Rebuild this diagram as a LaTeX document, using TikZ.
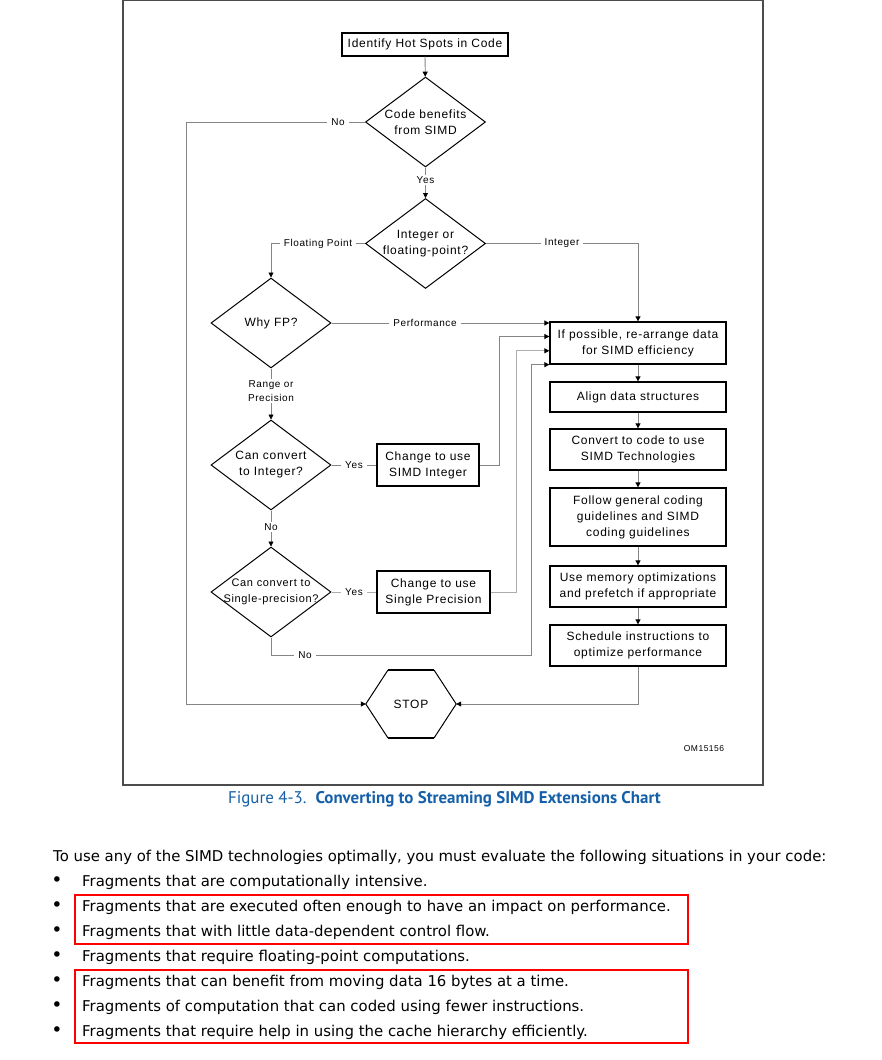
\documentclass[tikz,border=0pt]{standalone}
\usepackage{fontspec}
\usetikzlibrary{shapes.geometric,arrows.meta,calc}
\newfontfamily\dgfont{Liberation Sans}[LetterSpace=6]
\newfontfamily\bodyfont{DejaVu Sans}
\newfontfamily\capfont{PT Sans}
\definecolor{lnc}{HTML}{858585}
\definecolor{lnl}{HTML}{ADADAD}
\definecolor{capblue}{HTML}{1560A8}
\tikzset{
  conn/.style={draw=lnc, line width=0.8pt},
  connl/.style={draw=lnl, line width=0.9pt},
  arr/.style={-{Triangle[length=5pt,width=5pt,color=black]}},
  stepbox/.style={draw=black, line width=1.3pt, rectangle, inner sep=0pt, align=center,
     font={\dgfont\fontsize{12}{16}\selectfont}},
  dia/.style={draw=black, line width=1pt, diamond, inner sep=0pt,
     minimum width=120pt, minimum height=90pt},
  diatext/.style={align=center, inner sep=0pt, font={\dgfont\fontsize{12}{16}\selectfont}},
  lbl/.style={fill=white, inner xsep=4pt, inner ysep=2pt, align=center, font={\dgfont\fontsize{10}{14}\selectfont}},
  bodytxt/.style={anchor=west, inner sep=0pt, font={\bodyfont\fontsize{14.9}{18}\selectfont}},
  bul/.style={inner sep=0pt, font={\bodyfont\fontsize{19}{20}\selectfont}},
  redbox/.style={draw=red, line width=1.5pt},
}
\begin{document}
\begin{tikzpicture}[x=1pt,y=-1pt]
\useasboundingbox (0,0) rectangle (882,1060);
\fill[white] (0,0) rectangle (882,1060);
% frame
\draw[draw=black!70, line width=1.2pt] (123,0.6) rectangle (763,785);

% nodes
\node[stepbox, minimum width=166pt, minimum height=23pt] (top) at (425,44.5) {Identify Hot Spots in Code};
\node[dia] (d1) at (425.5,122) {};
\node[diatext] at (d1) {Code benefits\\from SIMD};
\node[dia] (d2) at (425.5,243.5) {};
\node[diatext] at (d2) {Integer or\\floating-point?};
\node[dia] (fp) at (271,323) {};
\node[diatext] at (fp) {Why FP?};
\node[dia] (d4) at (271,465) {};
\node[diatext] at (d4) {Can convert\\to Integer?};
\node[dia] (d5) at (271,592) {};
\node[diatext, font={\dgfont\fontsize{11}{16}\selectfont}] at (d5) {Can convert to\\Single-precision?};

\node[stepbox, minimum width=102pt, minimum height=42pt] (si) at (428,465) {Change to use\\SIMD Integer};
\node[stepbox, minimum width=113pt, minimum height=42pt] (sp) at (433.5,592) {Change to use\\Single Precision};

\node[stepbox, minimum width=176pt, minimum height=42pt] (b1) at (638,343) {If possible, re-arrange data\\for SIMD efficiency};
\node[stepbox, minimum width=176pt, minimum height=30pt] (b2) at (638,397) {Align data structures};
\node[stepbox, minimum width=176pt, minimum height=41pt] (b3) at (638,449.5) {Convert to code to use\\SIMD Technologies};
\node[stepbox, minimum width=176pt, minimum height=58pt] (b4) at (638,517) {Follow general coding\\guidelines and SIMD\\coding guidelines};
\node[stepbox, minimum width=176pt, minimum height=41pt] (b5) at (638,586.5) {Use memory optimizations\\and prefetch if appropriate};
\node[stepbox, minimum width=176pt, minimum height=41pt] (b6) at (638,645.5) {Schedule instructions to\\optimize performance};

% STOP hexagon
\node[inner sep=0pt, minimum width=90pt, minimum height=67pt, font={\dgfont\fontsize{12}{16}\selectfont}] (stop) at (411,704) {STOP};
\draw[black, line width=1pt] (stop.west) -- ($(stop.north west)+(22,0)$) -- ($(stop.north east)+(-22,0)$) -- (stop.east) -- ($(stop.south east)+(-22,0)$) -- ($(stop.south west)+(22,0)$) -- cycle;
\draw[black, line width=1.8pt] ($(stop.north west)+(22,0)$) -- ($(stop.north east)+(-22,0)$);
\draw[black, line width=1.8pt] ($(stop.south west)+(22,0)$) -- ($(stop.south east)+(-22,0)$);

% coordinates
\coordinate (lx) at (186,704);
\coordinate (noc) at (531,655);
\coordinate (b1a) at ($(b1.north west)!0.35!(b1.south west)$);
\coordinate (b1b) at ($(b1.north west)!0.68!(b1.south west)$);

% connectors
\draw[conn, arr] (top) -- (d1);
\draw[conn, arr] (d1.west) -| (lx) -- (stop.west);
\draw[conn, arr] (d1.south) -- (d2.north);
\draw[conn, arr] (d2.west) -| (fp.north);
\draw[conn, arr] (d2.east) -| (b1.north);
\draw[conn, arr] (fp.east) -- (fp.east -| b1.west);
\draw[conn, arr] (fp.south) -- (d4.north);
\draw[conn] (d4.east) -- (si.west);
\draw[conn, arr] (si.east) -- ++(20,0) |- (b1a);
\draw[conn, arr] (d4.south) -- (d5.north);
\draw[connl] (d5.east) -- (sp.west);
\draw[connl, arr] (sp.east) -- ++(26,0) |- (b1b);
\draw[conn, arr] (d5.south) |- (noc) |- (b1.south west);
\draw[conn, arr] (b1) -- (b2);
\draw[conn, arr] (b2) -- (b3);
\draw[conn, arr] (b3) -- (b4);
\draw[conn, arr] (b4) -- (b5);
\draw[conn, arr] (b5) -- (b6);
\draw[conn, arr] (b6.south) |- (stop.east);

% labels
\node[lbl] at (338,122) {No};
\node[lbl] at (425.5,180) {Yes};
\node[lbl] at (318,243.5) {Floating Point};
\node[lbl] at (562,243.5) {Integer};
\node[lbl] at (425,323) {Performance};
\node[lbl] at (271,391) {Range or\\Precision};
\node[lbl] at (354,465) {Yes};
\node[lbl] at (271,527) {No};
\node[lbl] at (354,592) {Yes};
\node[lbl] at (305,655) {No};
\node[inner sep=0pt, font={\dgfont\fontsize{8.5}{10}\selectfont}] at (704,749) {OM15156};

% caption
\node[inner sep=0pt, text=capblue, font={\capfont\fontsize{16.9}{18}\selectfont}] at (444.5,799) {Figure 4-3.\ \ \textbf{Converting to Streaming SIMD Extensions Chart}};

% body text
\node[bodytxt] at (53,857) {To use any of the SIMD technologies optimally, you must evaluate the following situations in your code:};
\foreach \yy/\txt in {882/{Fragments that are computationally intensive.},
  907/{Fragments that are executed often enough to have an impact on performance.},
  932/{Fragments that with little data-dependent control flow.},
  957/{Fragments that require floating-point computations.},
  982/{Fragments that can benefit from moving data 16 bytes at a time.},
  1007/{Fragments of computation that can coded using fewer instructions.},
  1032/{Fragments that require help in using the cache hierarchy efficiently.}}{
  \node[bul] at (57,\yy-0.5) {•};
  \node[bodytxt] at (82,\yy) {\txt};
}
\draw[redbox] (75,895) rectangle (688,944);
\draw[redbox] (75,970) rectangle (688,1043);
\end{tikzpicture}
\end{document}
